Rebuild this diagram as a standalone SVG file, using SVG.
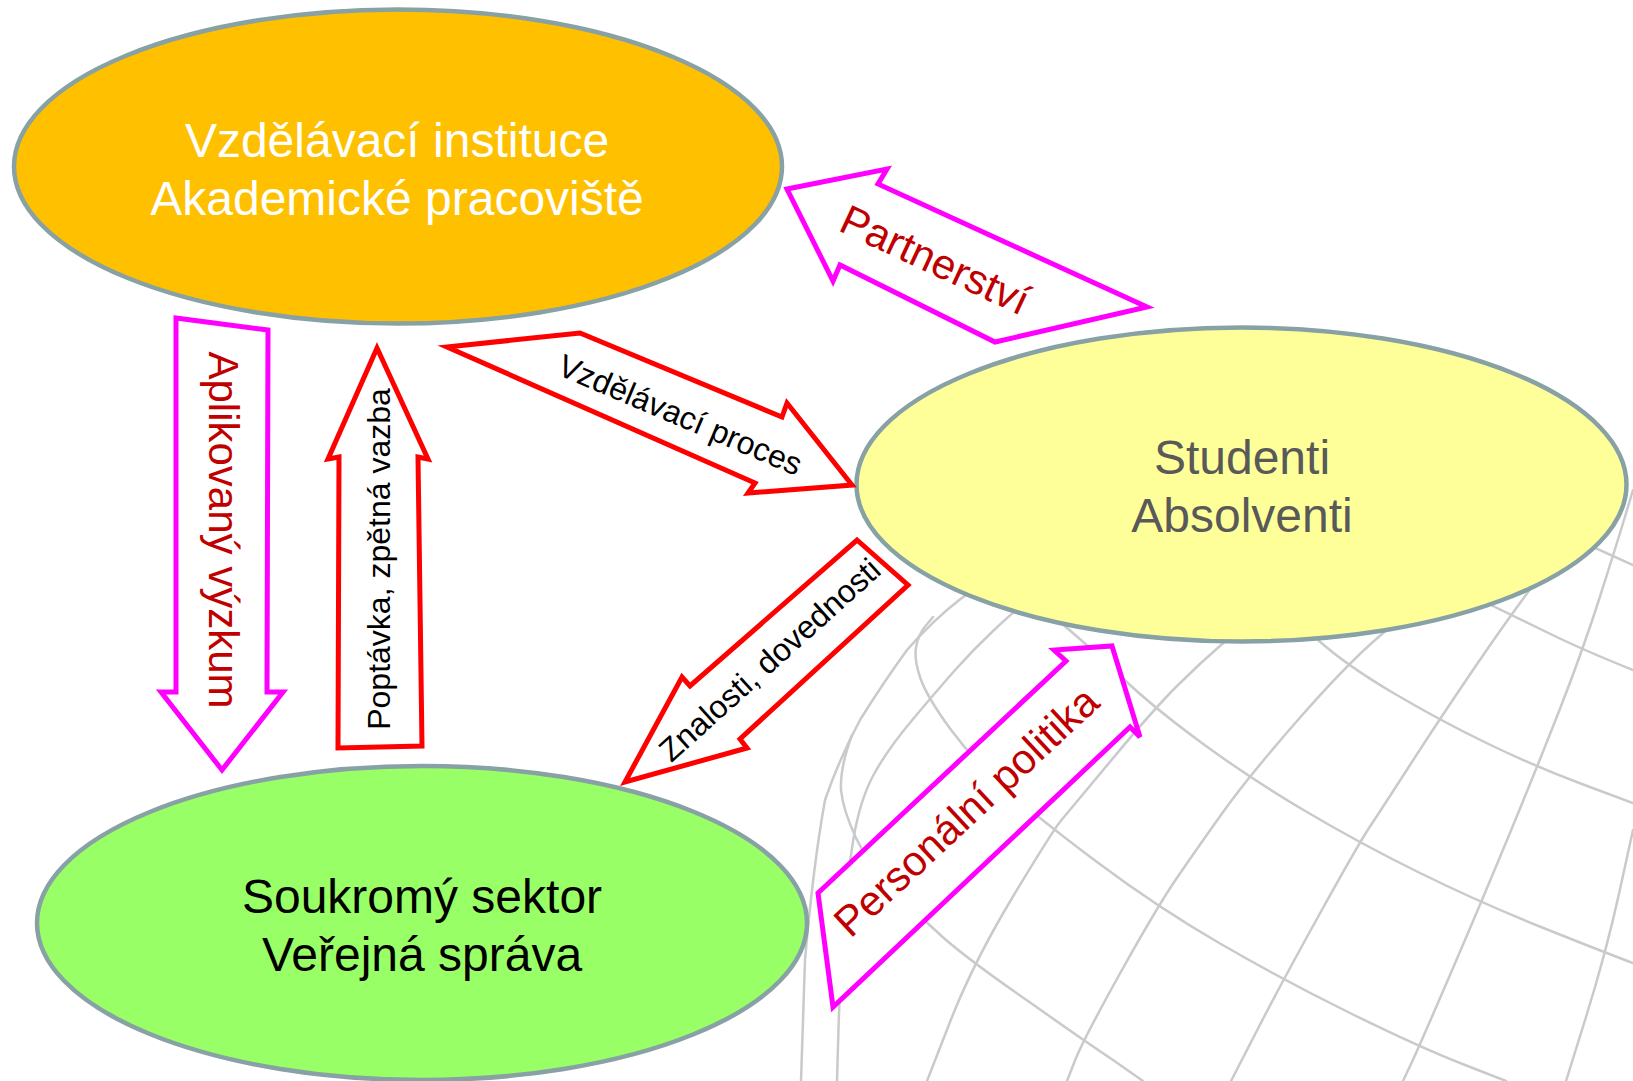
<svg xmlns="http://www.w3.org/2000/svg" width="1633" height="1081" viewBox="0 0 1633 1081">
<style>
.grid{fill:none;stroke:#c9cacc;stroke-width:2.5;stroke-linecap:round}
.node{stroke:#88a1a4;stroke-width:4.5}
.ntext{font-family:"Liberation Sans",Arial,sans-serif;font-size:48px;text-anchor:middle}
.arr{fill:#ffffff;stroke-width:5;stroke-linejoin:miter}
.mag{stroke:#ff00ff}
.red{stroke:#ff0000}
.lbl{font-family:"Liberation Sans",Arial,sans-serif;text-anchor:middle}
.big{font-size:42px;fill:#c00000}
.small{font-size:32px;fill:#000000}
</style>
<rect width="1633" height="1081" fill="#ffffff"/>
<g id="globe-grid">
<path class="grid" d="M1560 532 L1633 565"/>
<path class="grid" d="M1450 585 L1549.5 633.5 Q1583 650 1633 670"/>
<path class="grid" d="M1290 615 L1318 640 Q1346 665 1392.5 692.5 Q1439 720 1487.5 743.5 Q1536 767 1584.5 785 L1633 803"/>
<path class="grid" d="M1040 605 L1066.5 627.5 Q1093 650 1123 678.5 Q1153 707 1200.5 742 Q1248 777 1303.5 810 Q1359 843 1420 873 Q1481 903 1543.5 928 Q1606 953 1633 963"/>
<path class="grid" d="M933 617 L925.5 626 Q918 635 916 647.5 Q914 660 920.5 678.5 Q927 697 950 728.5 Q973 760 1005 788.5 Q1037 817 1097 862 Q1157 907 1220 943.5 Q1283 980 1351 1013.5 Q1419 1047 1462.5 1064 L1506 1081"/>
<path class="grid" d="M852 735 Q840 767 841 790 Q843 810 856 838 Q870 867 895 892 Q920 917 946 940 Q973 963 1028 1001 Q1083 1040 1113 1060 L1143 1081"/>
<path class="grid" d="M1633 830 L1619.5 891.5 Q1606 953 1586 1017 L1566 1081"/>
<path class="grid" d="M1633 490 L1625.5 515 Q1618 540 1600.5 595 Q1583 650 1559.5 710 Q1536 770 1508.5 836.5 Q1481 903 1450 975 Q1419 1047 1411 1064 L1403 1081"/>
<path class="grid" d="M1560 550 L1534.5 583.5 Q1509 617 1474 668.5 Q1439 720 1410 765 Q1381 810 1370 826.5 Q1359 843 1321 911.5 Q1283 980 1257 1030.5 L1231 1081"/>
<path class="grid" d="M1410 610 L1378 637.5 Q1346 665 1297 721 Q1248 777 1222 813.5 Q1196 850 1176.5 878.5 Q1157 907 1120 973.5 Q1083 1040 1075 1060.5 L1067 1081"/>
<path class="grid" d="M1250 620 L1225 641.5 Q1200 663 1176.5 686.5 Q1153 710 1111.5 760 Q1070 810 1061.5 820 Q1053 830 1013 896.5 Q973 963 950 1022 L927 1081"/>
<path class="grid" d="M1040 590 L1025 602.5 Q1010 615 991.5 632.5 Q973 650 956.5 668.5 Q940 687 913.5 718.5 Q887 750 873.5 775 Q860 800 853.5 838.5 Q847 877 843.5 927 Q840 977 838.5 1029 L837 1081"/>
<path class="grid" d="M975 590 L963 597 Q933 620 907 650 Q883 683 860 720 Q840 757 825 800 Q813 867 805 960 L801 1081"/>
</g>
<g id="node-vzdelavaci">
<ellipse class="node" cx="398" cy="166.5" rx="384" ry="157" fill="#ffc000"/>
<text class="ntext" fill="#ffffff"><tspan x="397" y="157">Vzdělávací instituce</tspan><tspan x="397" y="215">Akademické pracoviště</tspan></text>
</g>
<g id="node-studenti">
<ellipse class="node" cx="1241.5" cy="484.5" rx="385" ry="157" fill="#ffff99"/>
<text class="ntext" fill="#595959"><tspan x="1242" y="474">Studenti</tspan><tspan x="1242" y="532">Absolventi</tspan></text>
</g>
<g id="node-sektor">
<ellipse class="node" cx="422" cy="923" rx="385" ry="157" fill="#99ff66"/>
<text class="ntext" fill="#000000"><tspan x="422" y="913">Soukromý sektor</tspan><tspan x="422" y="971">Veřejná správa</tspan></text>
</g>
<g id="connectors">
<g id="arrow-aplikovany">
<polygon class="arr mag" points="176,318 268,330 267,692 283,692 222,770 161,692 176,692"/>
<text class="lbl big" transform="translate(209,530) rotate(90)">Aplikovaný výzkum</text>
</g>
<g id="arrow-poptavka">
<polygon class="arr red" points="377,348 428,459 418,457 422,746 338,748 339,457 328,459"/>
<text class="lbl small" transform="translate(390,559) rotate(-90)">Poptávka, zpětná vazba</text>
</g>
<g id="arrow-proces">
<polygon class="arr red" points="447,347 580,333 782,417 787,403 852,485 748,493 755,483"/>
<text class="lbl small" transform="translate(676,425) rotate(23)">Vzdělávací proces</text>
</g>
<g id="arrow-znalosti">
<polygon class="arr red" points="857,540 908,585 740,739 747,748 625,782 682,677 690,686"/>
<text class="lbl small" transform="translate(777,668) rotate(-42)">Znalosti, dovednosti</text>
</g>
<g id="arrow-partnerstvi">
<polygon class="arr mag" points="787,189 887,169 878,184 1147,307 995,342 840,265 833,281"/>
<text class="lbl big" transform="translate(929,273) rotate(25)">Partnerství</text>
</g>
<g id="arrow-personalni">
<polygon class="arr mag" points="818,893 1066,661 1054,650 1112,646 1140,737 1130,727 833,1007"/>
<text class="lbl big" transform="translate(976,822) rotate(-43)">Personální politika</text>
</g>
</g>
</svg>
